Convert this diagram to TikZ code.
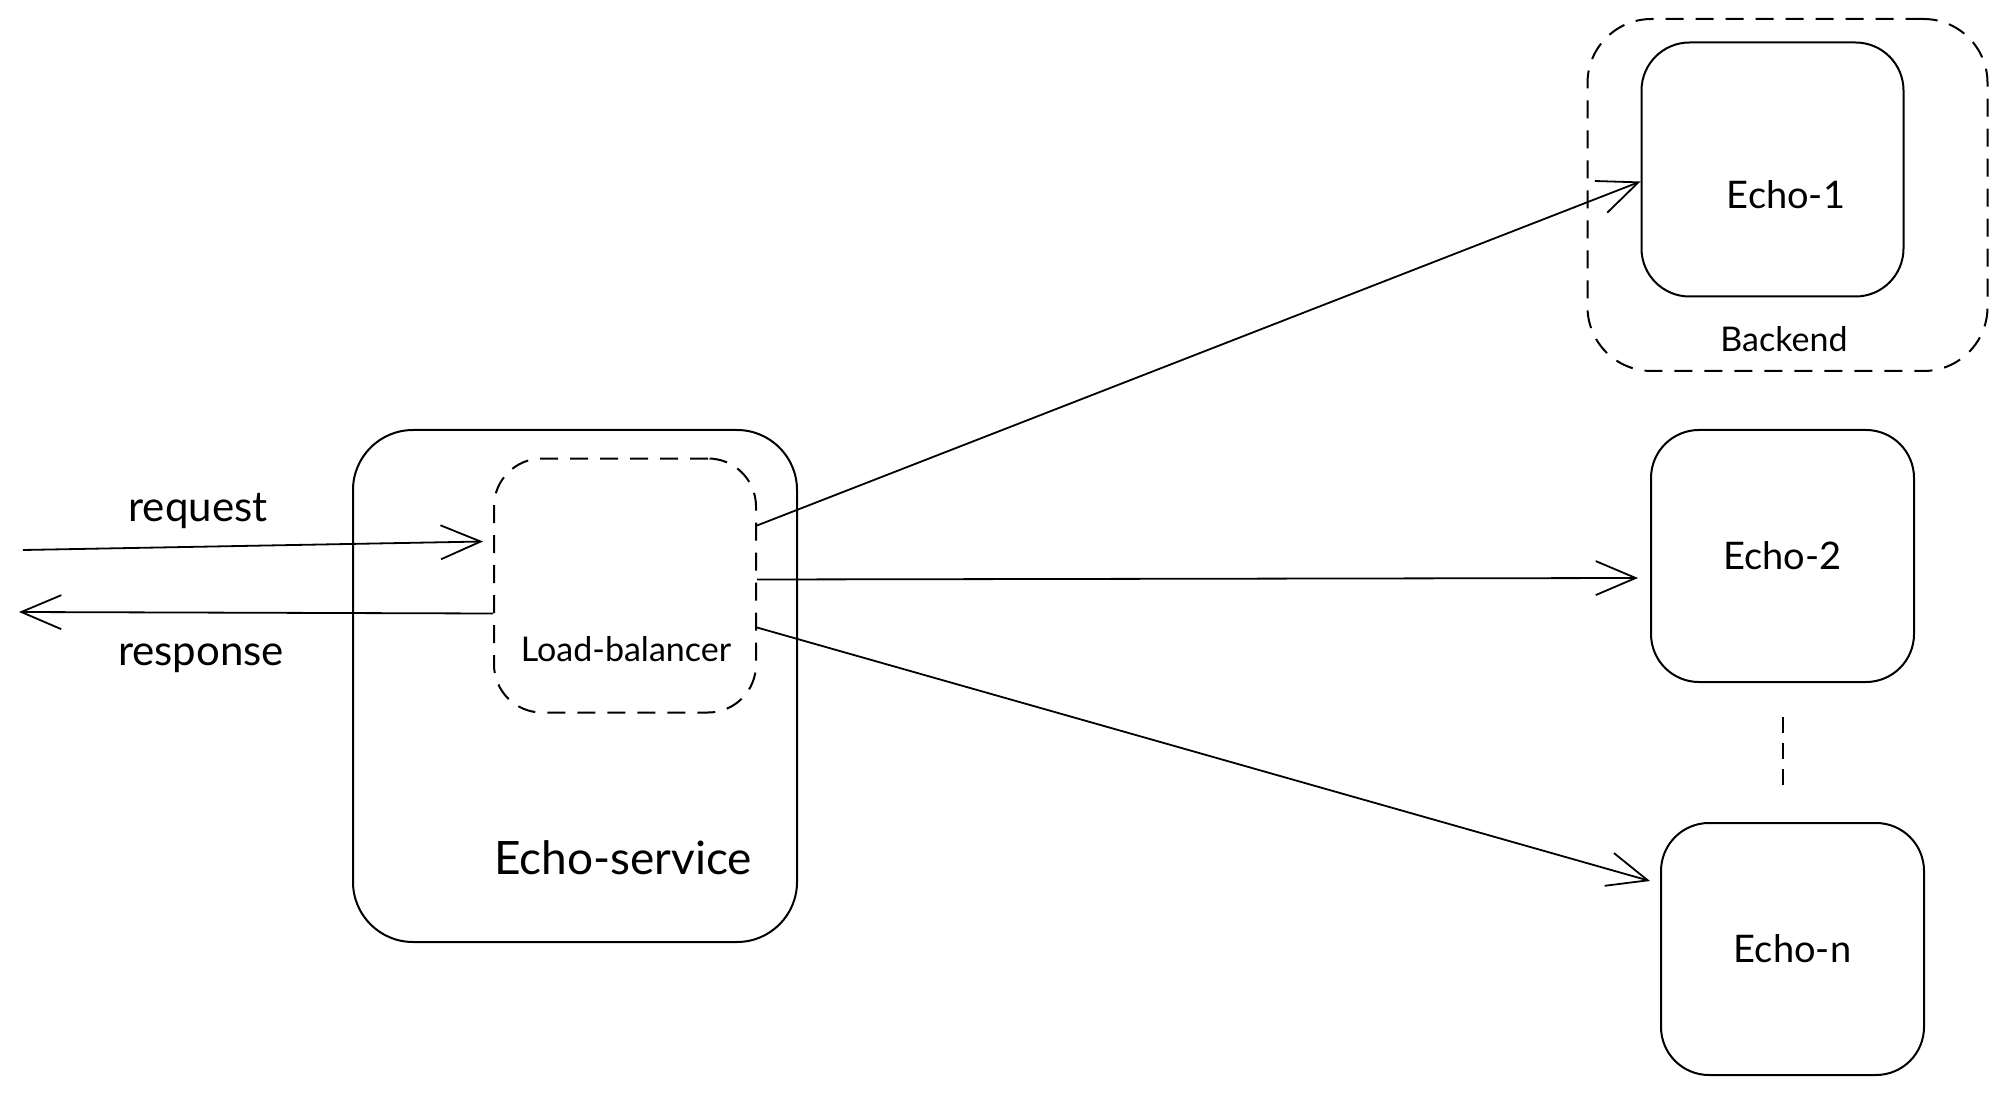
\documentclass[tikz,border=0pt]{standalone}
\usepackage{fontspec}
\setmainfont{Lato}
\usetikzlibrary{arrows.meta,calc}

\tikzset{
  box/.style = {draw, line width=1pt, rounded corners=24pt, minimum width=131pt, minimum height=127pt},
  group/.style = {box, dash pattern=on 9pt off 6pt},
  link/.style = {line width=0.9pt, -{Straight Barb[length=20pt,width=17pt,line width=0.9pt]}},
  big/.style = {font=\fontsize{23}{27}\selectfont},
  mid/.style = {font=\fontsize{19}{23}\selectfont},
  side/.style = {font=\fontsize{21}{25}\selectfont},
  small/.style = {font=\fontsize{17}{20}\selectfont},
}

\begin{document}
\begin{tikzpicture}[x=0.5pt,y=-0.5pt]
\useasboundingbox (0,0) rectangle (2007,1096);

% service with its load balancer
\node[box, minimum width=222pt, minimum height=256pt, rounded corners=30pt] (svc) at (575,686) {};
\node[group] (lb) at (625,585.5) {};
\node[big] (svc-label) at (623,858) {Echo-service};
\node[small] (lb-label) at (626,649) {Load-balancer};

% backends
\node[group, minimum width=200pt, minimum height=176pt, rounded corners=32pt] (backend) at (1787.5,195) {};
\node[box] (e1) at (1772.5,169.5) {};
\node[mid] (e1-label) at (1786,195) {Echo-1};
\node[small] (backend-label) at (1784,339) {Backend};
\node[box, mid, minimum width=131.5pt, minimum height=126pt] (e2) at (1782.5,556) {Echo-2};
\node[box, mid, minimum width=131.5pt, minimum height=126pt] (en) at (1792.5,949) {Echo-n};
\coordinate (gap-end) at (e2.south |- en.north);
\draw[line width=1pt, dash pattern=on 8pt off 5pt] ([yshift=-17pt]e2.south) -- ([yshift=17pt]gap-end);

% client side
\coordinate (client-in) at (23,550);
\coordinate (client-out) at (19,612);
\draw[link] (client-in) -- ([xshift=-5pt,yshift=22pt]lb.west);
\draw[link] ([yshift=-14pt]lb.west) -- (client-out);
\node[side] (req-label) at (198,511) {request};
\node[side] (resp-label) at (201,658) {response};

% balancing
\draw[link] ([yshift=30pt]lb.east) -- ([yshift=-6pt]e1.west);
\draw[link] ([yshift=3pt]lb.east) -- ([xshift=-6pt,yshift=-11pt]e2.west);
\draw[link] ([yshift=-21pt]lb.east) -- ([xshift=-5pt,yshift=34pt]en.west);
\end{tikzpicture}
\end{document}
